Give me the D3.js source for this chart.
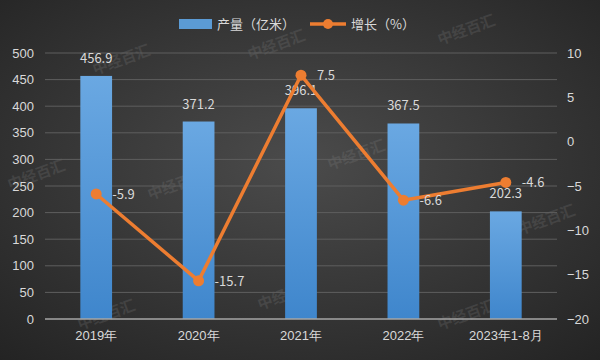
<!DOCTYPE html>
<html>
<head>
<meta charset="utf-8">
<script src="https://cdn.jsdelivr.net/npm/d3@7"></script>
<style>
  html, body { margin: 0; padding: 0; background: #333; }
  svg { display: block; font-family: "Noto Sans CJK SC", "Noto Sans", sans-serif; }
</style>
</head>
<body>
<svg id="chart"></svg>
<script>
// chart data
const years = ["2019年", "2020年", "2021年", "2022年", "2023年1-8月"];
const output = [456.9, 371.2, 396.1, 367.5, 202.3];   // 产量（亿米）
const growth = [-5.9, -15.7, 7.5, -6.6, -4.6];        // 增长（%）
const leftTicks = d3.range(0, 501, 50);
const rightTicks = d3.range(-20, 11, 5);

function drawChart() {
  const width = 600, height = 360;
  const margin = { top: 53, right: 43, bottom: 41, left: 45 };

  const svg = d3.select("#chart").attr("width", width).attr("height", height);
  const defs = svg.append("defs");

  // dark radial background
  const bg = defs.append("radialGradient").attr("id", "bg")
    .attr("cx", "50%").attr("cy", "45%").attr("r", "75%");
  bg.append("stop").attr("offset", "0%").attr("stop-color", "#4b4b4b");
  bg.append("stop").attr("offset", "100%").attr("stop-color", "#232323");

  const barGrad = defs.append("linearGradient").attr("id", "bar")
    .attr("x1", 0).attr("y1", 0).attr("x2", 0).attr("y2", 1);
  barGrad.append("stop").attr("offset", "0%").attr("stop-color", "#6aa8e2");
  barGrad.append("stop").attr("offset", "100%").attr("stop-color", "#3f86cc");

  svg.append("rect").attr("width", width).attr("height", height).attr("fill", "url(#bg)");

  const x = d3.scaleBand().domain(years)
    .range([margin.left, width - margin.right]).paddingInner(0.69).paddingOuter(0.345);
  const yL = d3.scaleLinear().domain([0, 500]).range([height - margin.bottom, margin.top]);
  const yR = d3.scaleLinear().domain([-20, 10]).range([height - margin.bottom, margin.top]);
  const cx = d => x(d) + x.bandwidth() / 2;

  // watermarks
  const marks = [[95, 75], [250, 60], [440, 45], [150, 200], [330, 170], [520, 235], [80, 330], [260, 310], [440, 330], [10, 190]];
  svg.append("g").selectAll("text").data(marks).join("text")
    .attr("transform", d => `translate(${d[0]},${d[1]}) rotate(-20)`)
    .attr("fill", "#8a8a8a").attr("opacity", 0.2)
    .attr("font-size", 15).attr("font-weight", "bold")
    .text("中经百汇");

  // grid
  svg.append("g").selectAll("line").data(leftTicks.slice(1)).join("line")
    .attr("x1", margin.left).attr("x2", width - margin.right)
    .attr("y1", d => yL(d)).attr("y2", d => yL(d))
    .attr("stroke", "#5e5e5e").attr("stroke-width", 1);

  // left axis
  const axL = svg.append("g").attr("transform", `translate(${margin.left},0)`)
    .call(d3.axisLeft(yL).tickValues(leftTicks).tickSize(0).tickPadding(11));
  axL.select(".domain").remove();
  axL.selectAll("text").attr("fill", "#d9d9d9").attr("font-size", 13);

  // right axis
  const axR = svg.append("g").attr("transform", `translate(${width - margin.right},0)`)
    .call(d3.axisRight(yR).tickValues(rightTicks).tickSize(0).tickPadding(10));
  axR.select(".domain").remove();
  axR.selectAll("text").attr("fill", "#d9d9d9").attr("font-size", 13);

  // bars
  svg.append("g").selectAll("rect").data(output).join("rect")
    .attr("x", (d, i) => x(years[i]))
    .attr("y", d => yL(d))
    .attr("width", x.bandwidth())
    .attr("height", d => yL(0) - yL(d))
    .attr("fill", "url(#bar)");

  // baseline
  svg.append("line")
    .attr("x1", margin.left).attr("x2", width - margin.right)
    .attr("y1", yL(0)).attr("y2", yL(0))
    .attr("stroke", "#a6a6a6").attr("stroke-width", 1.5);

  // x axis labels
  const axB = svg.append("g").attr("transform", `translate(0,${yL(0)})`)
    .call(d3.axisBottom(x).tickSize(0).tickPadding(12));
  axB.select(".domain").remove();
  axB.selectAll("text").attr("fill", "#d9d9d9").attr("font-size", 13);

  // bar labels
  svg.append("g").selectAll("text").data(output).join("text")
    .attr("x", (d, i) => cx(years[i]))
    .attr("y", d => yL(d) - 13)
    .attr("text-anchor", "middle")
    .attr("fill", "#d9d9d9").attr("font-size", 13)
    .text(d => d.toFixed(1));

  // growth line
  const line = d3.line().x((d, i) => cx(years[i])).y(d => yR(d));
  svg.append("path").datum(growth)
    .attr("d", line).attr("fill", "none")
    .attr("stroke", "#ed7d31").attr("stroke-width", 3.5).attr("stroke-linejoin", "round");

  svg.append("g").selectAll("circle").data(growth).join("circle")
    .attr("cx", (d, i) => cx(years[i])).attr("cy", d => yR(d))
    .attr("r", 5.5).attr("fill", "#ed7d31");

  svg.append("g").selectAll("text").data(growth).join("text")
    .attr("x", (d, i) => cx(years[i]) + 16)
    .attr("y", d => yR(d) + 5)
    .attr("fill", "#d9d9d9").attr("font-size", 13)
    .text(d => d.toFixed(1));

  // legend
  const lg = svg.append("g").attr("font-size", 13).attr("fill", "#d9d9d9");
  lg.append("rect").attr("x", 179).attr("y", 19).attr("width", 33).attr("height", 10).attr("fill", "#5b9bd5");
  lg.append("text").attr("x", 217).attr("y", 29).text("产量（亿米）");
  lg.append("line").attr("x1", 310).attr("x2", 346).attr("y1", 24).attr("y2", 24)
    .attr("stroke", "#ed7d31").attr("stroke-width", 3.5);
  lg.append("circle").attr("cx", 328).attr("cy", 24).attr("r", 5).attr("fill", "#ed7d31");
  lg.append("text").attr("x", 351).attr("y", 29).text("增长（%）");
}

document.addEventListener("DOMContentLoaded", drawChart);
</script>
</body>
</html>
